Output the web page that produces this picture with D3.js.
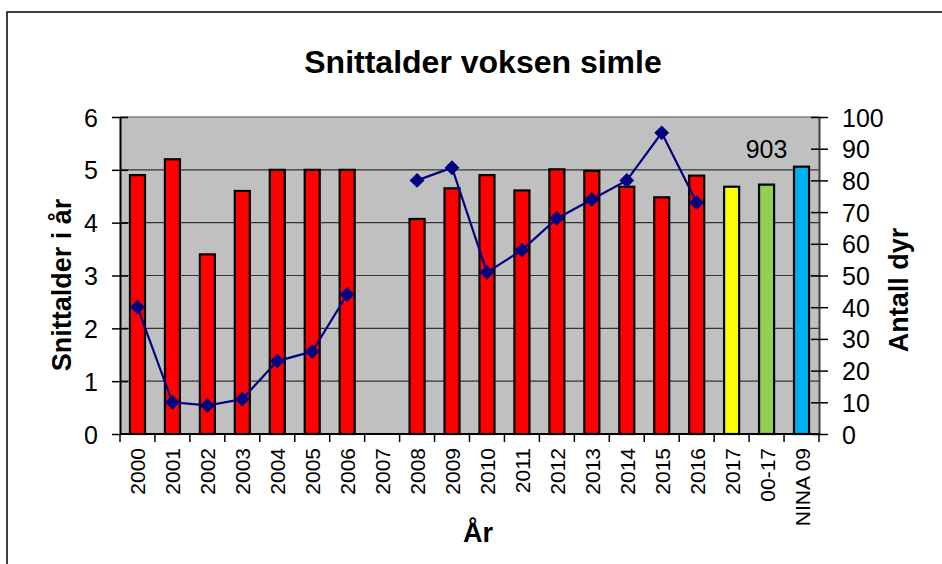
<!DOCTYPE html>
<html>
<head>
<meta charset="utf-8">
<script src="https://cdn.jsdelivr.net/npm/d3@7"></script>
<style>
  body { margin: 0; background: #fff; }
  text { font-family: "Liberation Sans", Arial, sans-serif; fill: #000; }
</style>
</head>
<body>
<div id="chart"></div>
<script>
// data
var categories = ["2000", "2001", "2002", "2003", "2004", "2005", "2006", "2007", "2008", "2009",
  "2010", "2011", "2012", "2013", "2014", "2015", "2016", "2017", "00-17", "NINA 09"];
var ageValues = [4.9, 5.2, 3.4, 4.6, 5.0, 5.0, 5.0, null, 4.07, 4.65,
  4.9, 4.61, 5.01, 4.98, 4.68, 4.48, 4.89, 4.68, 4.72, 5.06];
var countValues = [40, 10, 9, 11, 23, 26, 44, null, 80, 84,
  51, 58, 68, 74, 80, 95, 73, null, null, null];
var leftTicks = [0, 1, 2, 3, 4, 5, 6];
var rightTicks = [0, 10, 20, 30, 40, 50, 60, 70, 80, 90, 100];
var totalLabel = { category: "00-17", text: "903", value: 87 };

var barColors = { "2017": "#ffff00", "00-17": "#92d050", "NINA 09": "#00b0f0" };

var svgWidth = 942;
var svgHeight = 564;
var margin = { top: 117, right: 123, bottom: 130, left: 120 };
var width = svgWidth - margin.left - margin.right;
var height = svgHeight - margin.top - margin.bottom;

var svg = d3.select("#chart")
  .append("svg")
  .attr("width", svgWidth)
  .attr("height", svgHeight);

// outer frame
svg.append("rect")
  .attr("x", 7).attr("y", 12)
  .attr("width", 1000).attr("height", 600)
  .attr("fill", "none")
  .attr("stroke", "#000")
  .attr("stroke-width", 1.5);

svg.append("text")
  .attr("x", 483).attr("y", 73)
  .attr("text-anchor", "middle")
  .style("font-size", "32px")
  .style("font-weight", "bold")
  .text("Snittalder voksen simle");

var chartGroup = svg.append("g")
  .attr("transform", `translate(${margin.left}, ${margin.top})`);

var x = d3.scaleBand().domain(categories).range([0, width]);
var yLeft = d3.scaleLinear().domain([0, 6]).range([height, 0]);
var yRight = d3.scaleLinear().domain([0, 100]).range([height, 0]);

// plot area
chartGroup.append("rect")
  .attr("width", width).attr("height", height)
  .attr("fill", "#c0c0c0");

chartGroup.append("line")
  .attr("x1", 0).attr("x2", width)
  .attr("y1", 0).attr("y2", 0)
  .attr("stroke", "#808080").attr("stroke-width", 1.5);

chartGroup.selectAll(".grid")
  .data(leftTicks.slice(1, -1))
  .enter().append("line")
  .attr("x1", 0).attr("x2", width)
  .attr("y1", d => yLeft(d)).attr("y2", d => yLeft(d))
  .attr("stroke", "#333").attr("stroke-width", 1.2);

// bars
var barW = x.bandwidth() * 0.43;
chartGroup.selectAll(".bar")
  .data(categories.map((c, i) => ({ cat: c, v: ageValues[i] })).filter(d => d.v != null))
  .enter().append("rect")
  .attr("x", d => x(d.cat) + (x.bandwidth() - barW) / 2)
  .attr("y", d => yLeft(d.v))
  .attr("width", barW)
  .attr("height", d => height - yLeft(d.v))
  .attr("fill", d => barColors[d.cat] || "#ff0000")
  .attr("stroke", "#000")
  .attr("stroke-width", 2.2);

// line (gap where no count)
var pts = categories.map((c, i) => ({ cat: c, v: countValues[i] }));
var line = d3.line()
  .defined(d => d.v != null)
  .x(d => x(d.cat) + x.bandwidth() / 2)
  .y(d => yRight(d.v));

chartGroup.append("path")
  .datum(pts)
  .attr("d", line)
  .attr("fill", "none")
  .attr("stroke", "#000080")
  .attr("stroke-width", 2.2);

chartGroup.selectAll(".pt")
  .data(pts.filter(d => d.v != null))
  .enter().append("path")
  .attr("d", d3.symbol().type(d3.symbolSquare).size(110))
  .attr("transform", d => `translate(${x(d.cat) + x.bandwidth() / 2}, ${yRight(d.v)}) rotate(45)`)
  .attr("fill", "#000080");

chartGroup.append("text")
  .attr("x", x(totalLabel.category) + x.bandwidth() / 2)
  .attr("y", yRight(totalLabel.value))
  .attr("text-anchor", "middle")
  .style("font-size", "25px")
  .text(totalLabel.text);

// left axis
var leftAxis = d3.axisLeft(yLeft).tickValues(leftTicks).tickFormat(d3.format("d"))
  .tickSizeInner(8).tickSizeOuter(0).tickPadding(14);
var gl = chartGroup.append("g").call(leftAxis);
gl.select(".domain").attr("stroke", "#000").attr("stroke-width", 2);
gl.selectAll(".tick line").attr("x2", -8).attr("x1", 8).attr("stroke", "#000").attr("stroke-width", 1.5);
gl.selectAll(".tick text").style("font-size", "25px").attr("dy", "0.36em");
gl.selectAll(".tick").filter(d => d == 0).select("line").attr("x1", 0);

// right axis
var rightAxis = d3.axisRight(yRight).tickValues(rightTicks).tickSizeInner(9).tickSizeOuter(0).tickPadding(14);
var gr = chartGroup.append("g").attr("transform", `translate(${width}, 0)`).call(rightAxis);
gr.select(".domain").attr("stroke", "#404040").attr("stroke-width", 2);
gr.selectAll(".tick line").attr("x1", -8).attr("x2", 9).attr("stroke", "#000").attr("stroke-width", 1.5);
gr.selectAll(".tick text").style("font-size", "25px").attr("dy", "0.36em");

// x axis: ticks at band edges
var gx = chartGroup.append("g").attr("transform", `translate(0, ${height})`);
gx.append("line").attr("x1", 0).attr("x2", width).attr("stroke", "#000").attr("stroke-width", 2);
gx.selectAll(".edge")
  .data(categories.concat(["end"]))
  .enter().append("line")
  .attr("x1", d => d == "end" ? width : x(d))
  .attr("x2", d => d == "end" ? width : x(d))
  .attr("y1", 0).attr("y2", 8)
  .attr("stroke", "#000").attr("stroke-width", 1.5);
gx.selectAll(".lbl")
  .data(categories)
  .enter().append("text")
  .attr("transform", d => `translate(${x(d) + x.bandwidth() / 2 + 8}, 14) rotate(-90)`)
  .attr("text-anchor", "end")
  .style("font-size", "21px")
  .text(d => d);

// axis titles
svg.append("text")
  .attr("transform", "translate(71, 285) rotate(-90)")
  .attr("text-anchor", "middle")
  .style("font-size", "27px")
  .style("font-weight", "bold")
  .text("Snittalder i år");

svg.append("text")
  .attr("transform", "translate(908, 290) rotate(-90)")
  .attr("text-anchor", "middle")
  .style("font-size", "27px")
  .style("font-weight", "bold")
  .text("Antall dyr");

svg.append("text")
  .attr("x", 478).attr("y", 542)
  .attr("text-anchor", "middle")
  .style("font-size", "27px")
  .style("font-weight", "bold")
  .text("År");
</script>
</body>
</html>
